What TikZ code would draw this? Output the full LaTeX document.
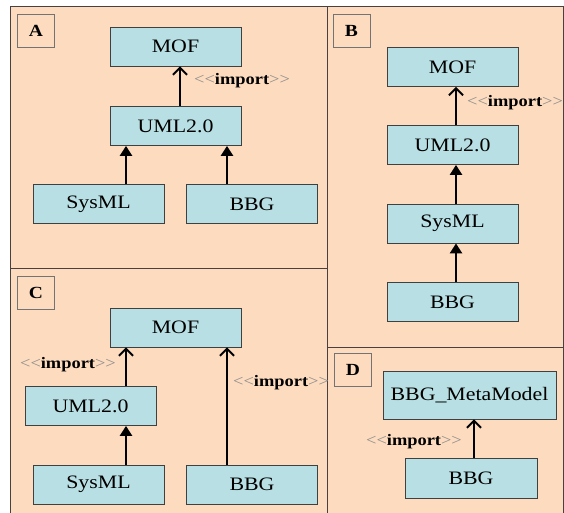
\documentclass[tikz,border=0pt]{standalone}
\usepackage{fontspec}
\setmainfont{Liberation Serif}[FakeStretch=1.15]
\usetikzlibrary{arrows.meta,positioning,calc}
\definecolor{pessego}{HTML}{FCDBBE}
\definecolor{caixa}{HTML}{B8DFE3}
\definecolor{moldura}{HTML}{4A4040}
\newcommand{\importa}{{\color{black!45}<\kern0pt<}\textbf{import}{\color{black!45}>\kern0pt>}}

\begin{document}
\begin{tikzpicture}[x=1pt,y=-1pt,
    modelo/.style={draw=black!75, fill=caixa, line width=0.8pt, minimum width=131pt,
        minimum height=39pt, inner sep=0pt, font=\fontsize{19}{21}\selectfont},
    rotulo/.style={draw=black!55, fill=pessego, line width=0.6pt, minimum width=37pt,
        minimum height=33pt, inner sep=0pt, font=\fontsize{17}{19}\selectfont\bfseries},
    heranca/.style={-{Triangle[length=10pt,width=12pt]}, line width=2.4pt},
    dependencia/.style={-{Straight Barb[length=7pt,width=14pt,line width=2pt]}, line width=2.4pt},
    estereo/.style={font=\fontsize{16}{18}\selectfont, inner sep=0pt}]

        \useasboundingbox (0,0) rectangle (564,513);
        \clip (0,0) rectangle (564,513);

        % Moldura
        \fill[pessego] (10,7) rectangle (563,520);
        \draw[moldura, line width=1pt] (10,7) rectangle (563,520);
        \draw[moldura, line width=1pt] (327,7) -- (327,520);
        \draw[moldura, line width=1pt] (10,268) -- (327,268);
        \draw[moldura, line width=1pt] (327,347) -- (563,347);

        % Caso A
        \node[rotulo] (labA) at (36,30.5) {A};
        \node[modelo] (mofA) at (175.5,46.5) {MOF};
        \node[modelo] (umlA) at (175.5,126) {UML2.0};
        \node[modelo] (sysA) at (98.5,204) {SysML};
        \node[modelo] (bbgA) at (252,204) {BBG};
        \draw[dependencia] ([xshift=4.5pt]umlA.north) -- ([xshift=4.5pt]mofA.south)
            node[estereo, pos=0.65, right=13pt] {\importa};
        \draw[heranca] ([xshift=27.5pt]sysA.north) -- ([xshift=-49.5pt]umlA.south);
        \draw[heranca] ([xshift=-25pt]bbgA.north) -- ([xshift=51.5pt]umlA.south);

        % Caso B
        \node[rotulo] (labB) at (351.5,30.5) {B};
        \node[modelo] (mofB) at (452.5,67) {MOF};
        \node[modelo] (umlB) at (452.5,145) {UML2.0};
        \node[modelo] (sysB) at (452.5,223.5) {SysML};
        \node[modelo] (bbgB) at (452.5,302) {BBG};
        \draw[dependencia] ([xshift=3.5pt]umlB.north) -- ([xshift=3.5pt]mofB.south)
            node[estereo, pos=0.6, right=10pt] {\importa};
        \draw[heranca] ([xshift=3.5pt]sysB.north) -- ([xshift=3.5pt]umlB.south);
        \draw[heranca] ([xshift=3.5pt]bbgB.north) -- ([xshift=3.5pt]sysB.south);

        % Caso C
        \node[rotulo] (labC) at (36,292.5) {C};
        \node[modelo] (mofC) at (175.5,327.5) {MOF};
        \node[modelo] (umlC) at (90.5,406) {UML2.0};
        \node[modelo] (sysC) at (98.5,484.5) {SysML};
        \node[modelo] (bbgC) at (252,484.5) {BBG};
        \draw[dependencia] ([xshift=35.5pt]umlC.north) -- ([xshift=-49.5pt]mofC.south)
            node[estereo, pos=0.55, left=9pt] {\importa};
        \draw[heranca] ([xshift=27.5pt]sysC.north) -- ([xshift=35.5pt]umlC.south);
        \draw[dependencia] ([xshift=-25pt]bbgC.north) -- ([xshift=51.5pt]mofC.south)
            node[estereo, pos=0.7, right=5pt] {\importa};

        % Caso D
        \node[rotulo] (labD) at (353,370) {D};
        \node[modelo, minimum width=173pt, minimum height=48pt] (metaD) at (469.5,395) {BBG\_MetaModel};
        \node[modelo, minimum width=132pt, minimum height=40pt] (bbgD) at (471,478) {BBG};
        \draw[dependencia] ([xshift=3pt]bbgD.north) -- ([xshift=4.5pt]metaD.south)
            node[estereo, pos=0.41, left=11pt] {\importa};

    \end{tikzpicture}
\end{document}
